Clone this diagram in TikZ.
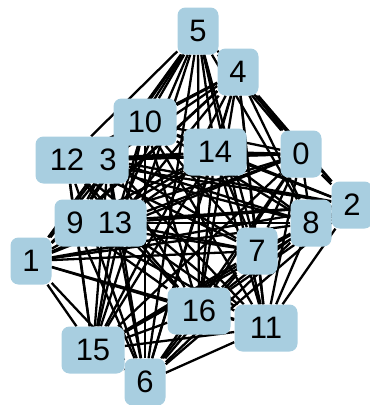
\documentclass[tikz,border=0pt]{standalone}
\usepackage{fontspec}
\setmainfont{Liberation Sans}
\usetikzlibrary{positioning}
\definecolor{nodeblue}{RGB}{168,206,224}
\pgfdeclarelayer{background}
\pgfsetlayers{background,main}

\begin{document}
\begin{tikzpicture}[x=1pt, y=-1pt,
      vtx/.style={fill=nodeblue, rounded corners=8pt, inner sep=0pt,
                  minimum width=41pt, minimum height=47pt,
                  font=\fontsize{31}{31}\selectfont},
      wide/.style={minimum width=63pt},
      edge/.style={draw=black, line width=2.3pt}]
    \useasboundingbox (0,0) rectangle (370,405);
    \node[vtx] (v0) at (301,154) {0};
    \node[vtx] (v1) at (31,261) {1};
    \node[vtx] (v2) at (352,205) {2};
    \node[vtx] (v3) at (108,160) {3};
    \node[vtx, wide] (v12) at (67,160) {12};
    \node[vtx] (v4) at (238,72) {4};
    \node[vtx] (v5) at (198,31) {5};
    \node[vtx] (v6) at (145,382) {6};
    \node[vtx] (v7) at (257,251) {7};
    \node[vtx] (v8) at (311,223) {8};
    \node[vtx] (v9) at (75,223) {9};
    \node[vtx, wide] (v10) at (145,122) {10};
    \node[vtx, wide] (v11) at (266,328) {11};
    \node[vtx, wide] (v13) at (115,223) {13};
    \node[vtx, wide] (v14) at (215,152) {14};
    \node[vtx, wide] (v15) at (93,350) {15};
    \node[vtx, wide] (v16) at (199,311) {16};
    % edges behind the vertices
    \begin{pgfonlayer}{background}
      \foreach \i in {0,...,15}{
        \pgfmathtruncatemacro\jfirst{\i+1}
        \foreach \j in {\jfirst,...,16}{
          \pgfmathtruncatemacro\nope{(\i==1)&&(\j==12)}
          \ifnum\nope=0 \draw[edge] (v\i) -- (v\j); \fi
        }
      }
    \end{pgfonlayer}
  \end{tikzpicture}
\end{document}
